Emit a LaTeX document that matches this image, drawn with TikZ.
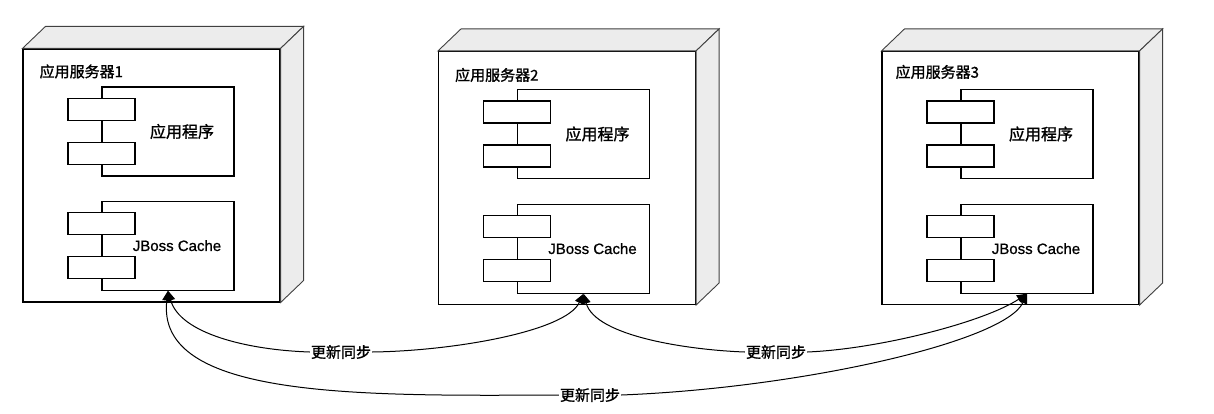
\documentclass[tikz,border=0pt]{standalone}
\usepackage{fontspec}
\setmainfont{Liberation Sans}
\newfontfamily\cjk[FakeBold=1.2]{Noto Sans CJK SC}
\newfontfamily\cachefont[FakeBold=0.8]{Liberation Sans}
\usetikzlibrary{positioning}
\usetikzlibrary{arrows.meta}
\tikzset{>={Triangle[width=9pt,length=10pt]}}
\tikzset{
  front/.style={draw,line width=1.1pt,fill=white,minimum width=257pt,minimum height=253pt,inner sep=0pt},
  face/.style={draw=black!75,line width=0.9pt,fill=gray!15},
  comp/.style={draw,line width=1.1pt,fill=white,minimum width=132pt,minimum height=89pt,inner sep=0pt},
  port/.style={draw,line width=1.1pt,fill=white,minimum width=67pt,minimum height=22pt,inner sep=0pt},
  title/.style={anchor=west,inner sep=0pt,font=\cjk\fontsize{15}{18}\selectfont},
  compname/.style={inner sep=0pt,font=\cjk\fontsize{16}{19}\selectfont},
  cachename/.style={inner sep=0pt,font=\cachefont\fontsize{15}{18}\selectfont},
  tag/.style={inner sep=1pt,font=\cjk\fontsize{15}{18}\selectfont},
  sync/.style={->,line width=1pt},
}
\begin{document}
\begin{tikzpicture}[x=1pt,y=-1pt]
\useasboundingbox (0,0) rectangle (1214,414);

%Server 1
\node[front] (s1) at (151.5,175.5) {};
\draw[face] (s1.north west) -- ++(23,-22) -- ([shift={(23,-22)}]s1.north east) -- (s1.north east) -- cycle ;
\draw[face] (s1.north east) -- ++(23,-22) -- ([shift={(23,-22)}]s1.south east) -- (s1.south east) -- cycle ;
\node[title] (t1) at ([shift={(17,23)}]s1.north west) {应用服务器1};
\node[comp, below right=38pt and 79pt of s1.north west] (app1) {};
\node[port, yshift=22pt] (app1a) at (app1.west) {};
\node[port, yshift=-22pt] (app1b) at (app1.west) {};
\node[compname] (app1l) at ([xshift=14pt]app1.center) {应用程序};
\node[comp, below=24pt of app1] (jbc1) {};
\node[port, yshift=22pt] (jbc1a) at (jbc1.west) {};
\node[port, yshift=-22pt] (jbc1b) at (jbc1.west) {};
\node[cachename] (jbc1l) at ([xshift=9pt]jbc1.center) {JBoss Cache};

%Server 2
\node[front] (s2) at (567,178) {};
\draw[face] (s2.north west) -- ++(23,-22) -- ([shift={(23,-22)}]s2.north east) -- (s2.north east) -- cycle ;
\draw[face] (s2.north east) -- ++(23,-22) -- ([shift={(23,-22)}]s2.south east) -- (s2.south east) -- cycle ;
\node[title] (t2) at ([shift={(17,24)}]s2.north west) {应用服务器2};
\node[comp, below right=38pt and 79pt of s2.north west] (app2) {};
\node[port, yshift=22pt] (app2a) at (app2.west) {};
\node[port, yshift=-22pt] (app2b) at (app2.west) {};
\node[compname] (app2l) at ([xshift=14pt]app2.center) {应用程序};
\node[comp, below=24.5pt of app2] (jbc2) {};
\node[port, yshift=22pt] (jbc2a) at (jbc2.west) {};
\node[port, yshift=-22pt] (jbc2b) at (jbc2.west) {};
\node[cachename] (jbc2l) at ([xshift=9pt]jbc2.center) {JBoss Cache};

%Server 3
\node[front] (s3) at (1010.5,178) {};
\draw[face] (s3.north west) -- ++(23,-22) -- ([shift={(23,-22)}]s3.north east) -- (s3.north east) -- cycle ;
\draw[face] (s3.north east) -- ++(23,-22) -- ([shift={(23,-22)}]s3.south east) -- (s3.south east) -- cycle ;
\node[title] (t3) at ([shift={(14,21)}]s3.north west) {应用服务器3};
\node[comp, below right=38pt and 79pt of s3.north west] (app3) {};
\node[port, yshift=22pt] (app3a) at (app3.west) {};
\node[port, yshift=-22pt] (app3b) at (app3.west) {};
\node[compname] (app3l) at ([xshift=14pt]app3.center) {应用程序};
\node[comp, below=24.5pt of app3] (jbc3) {};
\node[port, yshift=22pt] (jbc3a) at (jbc3.west) {};
\node[port, yshift=-22pt] (jbc3b) at (jbc3.west) {};
\node[cachename] (jbc3l) at ([xshift=9pt]jbc3.center) {JBoss Cache};

%Sync curves
\node[tag] (sync12) at (341,352) {更新同步};
\draw[sync] (sync12.west) .. controls +(-62,-2) and +(12,43) .. (jbc1.south);
\draw[sync] (sync12.east) .. controls +(80,-1) and +(-18,38) .. (jbc2.south);
\node[tag] (sync23) at (776,352) {更新同步};
\draw[sync] (sync23.west) .. controls +(-55,-2) and +(12,43) .. (jbc2.south);
\draw[sync] (sync23.east) .. controls +(73,-3) and +(-42,28) .. (jbc3.south);
\node[tag] (sync13) at (590,395) {更新同步};
\draw[sync] (sync13.west) .. controls +(-200,1) and +(-13,108) .. (jbc1.south);
\draw[sync] (sync13.east) .. controls +(180,-7) and +(-22,48) .. (jbc3.south);
\end{tikzpicture}
\end{document}
